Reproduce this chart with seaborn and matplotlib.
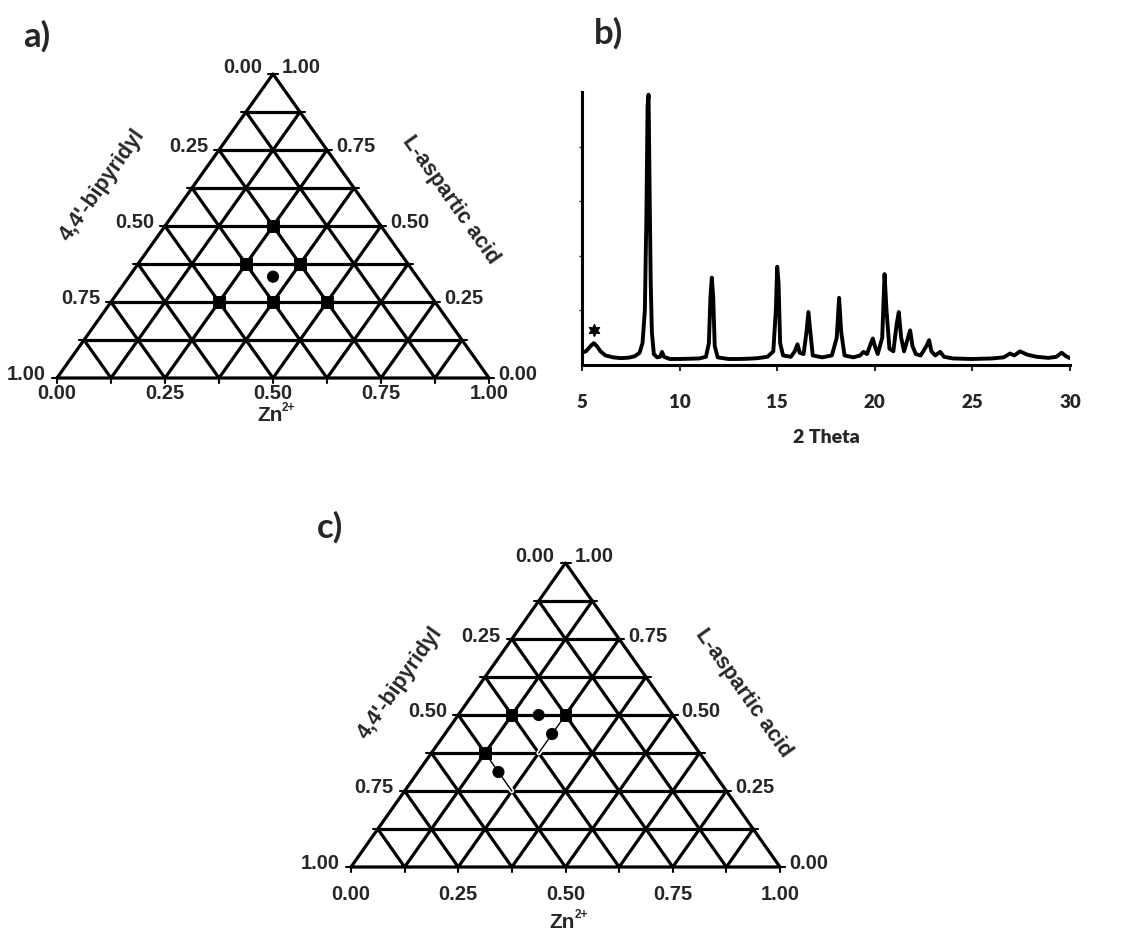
import numpy as np
import pandas as pd
import seaborn as sns
import matplotlib.pyplot as plt

W, H = 1131, 937

# ---- panel a: compositions (Zn2+, 4,4'-bipyridyl, L-aspartic acid)
a_zn = [0.25, 0.25, 0.375, 0.25, 0.375, 0.5, 1 / 3]
a_bipy = [0.25, 0.375, 0.25, 0.5, 0.375, 0.25, 1 / 3]
a_asp = [0.5, 0.375, 0.375, 0.25, 0.25, 0.25, 1 / 3]
a_kind = ['grid', 'grid', 'grid', 'grid', 'grid', 'grid', 'mid']

# ---- panel c
c_zn = [0.125, 0.25, 0.125, 0.1875, 0.25, 0.1875]
c_bipy = [0.375, 0.25, 0.5, 0.3125, 0.3125, 0.5]
c_asp = [0.5, 0.5, 0.375, 0.5, 0.4375, 0.3125]
c_kind = ['grid', 'grid', 'grid', 'mid', 'mid', 'mid']
# thin tie lines in c (start, end)
tie_zn = [[0.25, 0.25], [0.125, 0.25]]
tie_asp = [[0.5, 0.375], [0.375, 0.25]]

# ---- panel b: powder pattern
two_theta = [5.0, 5.2, 5.45, 5.6, 5.75, 5.95, 6.2, 6.6, 7.0, 7.4, 7.7, 7.95, 8.1, 8.22,
             8.3, 8.36, 8.41, 8.47, 8.52, 8.58, 8.68, 8.85, 9.0, 9.1, 9.2, 9.5, 10.0,
             10.5, 11.0, 11.35, 11.5, 11.58, 11.65, 11.72, 11.8, 11.95, 12.5, 13.0,
             13.5, 14.0, 14.5, 14.8, 14.93, 15.0, 15.07, 15.15, 15.3, 15.7, 15.9, 16.04,
             16.15, 16.35, 16.5, 16.6, 16.7, 16.82, 17.3, 17.8, 18.05, 18.17, 18.28,
             18.45, 18.9, 19.25, 19.42, 19.6, 19.8, 19.9, 20.0, 20.15, 20.38, 20.5,
             20.6, 20.75, 20.95, 21.12, 21.23, 21.35, 21.5, 21.7, 21.81, 21.93, 22.1,
             22.35, 22.65, 22.78, 22.9, 23.1, 23.35, 23.55, 24.0, 25.0, 26.0, 26.6,
             26.93, 27.15, 27.44, 27.8, 28.3, 28.9, 29.3, 29.57, 29.8, 30.0]
intensity = [0.045, 0.05, 0.07, 0.08, 0.07, 0.05, 0.035, 0.028, 0.025, 0.027, 0.032,
             0.045, 0.08, 0.2, 0.55, 0.95, 0.99, 0.6, 0.3, 0.12, 0.04, 0.028, 0.03,
             0.048, 0.03, 0.022, 0.022, 0.023, 0.024, 0.03, 0.08, 0.25, 0.32, 0.25,
             0.07, 0.028, 0.022, 0.022, 0.023, 0.025, 0.03, 0.05, 0.2, 0.36, 0.3, 0.08,
             0.035, 0.03, 0.05, 0.076, 0.045, 0.04, 0.12, 0.194, 0.12, 0.035, 0.028,
             0.035, 0.1, 0.246, 0.12, 0.035, 0.028, 0.035, 0.048, 0.04, 0.08, 0.097,
             0.07, 0.04, 0.1, 0.333, 0.2, 0.06, 0.05, 0.15, 0.194, 0.1, 0.05, 0.1,
             0.127, 0.07, 0.04, 0.035, 0.07, 0.091, 0.05, 0.035, 0.048, 0.03, 0.024,
             0.022, 0.024, 0.028, 0.042, 0.035, 0.05, 0.038, 0.03, 0.026, 0.03, 0.045,
             0.032, 0.025]
star_pos = [5.6]
star_int = [0.127]
tick_vals = [0.0, 0.25, 0.5, 0.75, 1.0]

sns.set_style('white')
plt.rcParams['font.family'] = ['Liberation Sans', 'DejaVu Sans']
plt.rcParams['font.weight'] = 'bold'

fig = plt.figure(figsize=(W / 100, H / 100), dpi=100)


def box(l, t, r, b):
    return fig.add_axes([l / W, 1 - b / H, (r - l) / W, (b - t) / H])


def tern(ax, zn, bipy, asp, kind, wpx, hpx, lab_dy, zn_dy, names):
    ax.set_xlim(0, 1)
    ax.set_ylim(0, 1)
    ax.axis('off')
    lw = 2.3
    for k in range(1, 8):
        t = k / 8
        ax.plot([t / 2, 1 - t / 2], [t, t], color='black', lw=lw, solid_capstyle='butt')
        ax.plot([t, t + (1 - t) / 2], [0, 1 - t], color='black', lw=lw)
        ax.plot([1 - t, (1 - t) / 2], [0, 1 - t], color='black', lw=lw)
    ax.plot([0, 1, 0.5, 0], [0, 0, 1, 0], color='black', lw=lw, clip_on=False)
    tx, ty = 5 / wpx, 5 / hpx
    for k in range(9):
        t = k / 8
        ax.plot([t / 2 - tx, t / 2], [t, t], color='black', lw=1.5, clip_on=False)
        ax.plot([1 - t / 2, 1 - t / 2 + tx], [t, t], color='black', lw=1.5, clip_on=False)
        ax.plot([t, t], [0, -ty], color='black', lw=1.5, clip_on=False)
    for v in tick_vals:
        h = 1 - v
        dy = 7 if h == 1 else 4
        ax.annotate(f'{v:.2f}', (h / 2, h), xytext=(-11, dy), textcoords='offset pixels',
                    ha='right', va='center', fontsize=14.5, fontweight='bold')
        dy = 7 if v == 1 else 4
        ax.annotate(f'{v:.2f}', (1 - v / 2, v), xytext=(9, dy), textcoords='offset pixels',
                    ha='left', va='center', fontsize=14.5, fontweight='bold')
        ax.annotate(f'{v:.2f}', (v, 0), xytext=(0, -lab_dy), textcoords='offset pixels',
                    ha='center', va='center', fontsize=14.5, fontweight='bold')
    ax.annotate('Zn', (0.5, 0), xytext=(-3, -zn_dy), textcoords='offset pixels',
                ha='center', va='center', fontsize=15, fontweight='bold')
    ax.annotate('2+', (0.5, 0), xytext=(9, -zn_dy + 8), textcoords='offset pixels',
                ha='left', va='center', fontsize=8.5, fontweight='bold')
    ang = np.degrees(np.arctan2(hpx, wpx / 2))
    (lx, ly), (rx, ry) = names
    ax.text(lx, ly, "4,4'-bipyridyl", rotation=ang, rotation_mode='anchor',
            ha='center', va='center', fontsize=15.5, fontweight='bold')
    ax.text(rx, ry, 'L-aspartic acid', rotation=-ang, rotation_mode='anchor',
            ha='center', va='center', fontsize=15.5, fontweight='bold')
    df = pd.DataFrame({'x': np.array(zn) + np.array(asp) / 2, 'y': asp, 'kind': kind})
    sns.scatterplot(data=df, x='x', y='y', style='kind', markers={'grid': 's', 'mid': 'o'},
                    color='black', s=65, edgecolor='black', legend=False, ax=ax,
                    zorder=5, clip_on=False)


ax_a = box(57, 75, 489, 379)
tern(ax_a, a_zn, a_bipy, a_asp, a_kind, 432, 304, 15, 37,
     [(0.106, 0.638), (0.91, 0.589)])

ax_c = box(351, 564, 780, 868)
tern(ax_c, c_zn, c_bipy, c_asp, c_kind, 429, 304, 27, 55,
     [(0.114, 0.609), (0.914, 0.576)])
for zz, aa in zip(tie_zn, tie_asp):
    xs = np.array(zz) + np.array(aa) / 2
    ax_c.plot(xs, aa, color='white', lw=3.4, zorder=3)
    ax_c.plot(xs, aa, color='black', lw=1.0, zorder=4)

# ---- panel b
ax_b = box(582, 93, 1070, 366)
xrd = pd.DataFrame({'two_theta': two_theta, 'intensity': intensity})
sns.lineplot(data=xrd, x='two_theta', y='intensity', color='black', lw=2.8, ax=ax_b)
ax_b.scatter(star_pos, star_int, marker=(6, 1, 0), s=70, color='black', zorder=5)
ax_b.set_xlim(5, 30)
ax_b.set_ylim(0, 1)
for s in ['top', 'right']:
    ax_b.spines[s].set_visible(False)
for s in ['left', 'bottom']:
    ax_b.spines[s].set_linewidth(2.2)
    ax_b.spines[s].set_color('black')
ax_b.set_xticks([5, 10, 15, 20, 25, 30])
ax_b.set_yticks([0.2, 0.4, 0.6, 0.8])
ax_b.set_yticklabels([])
ax_b.tick_params(axis='x', direction='out', length=4, width=1.5, pad=16,
                 labelsize=13.5, bottom=True)
ax_b.tick_params(axis='y', direction='out', length=2, width=1, left=True)
for lbl in ax_b.get_xticklabels():
    lbl.set_fontfamily(['Lato', 'DejaVu Sans'])
    lbl.set_fontweight('heavy')
ax_b.set_xlabel('2 Theta', fontsize=14, fontweight='heavy', family=['Lato', 'DejaVu Sans'],
                labelpad=13)
ax_b.set_ylabel('')

for txt, (px, py) in zip(['a)', 'b)', 'c)'], [(37, 36), (608, 33), (330, 527)]):
    fig.text(px / W, 1 - py / H, txt, ha='center', va='center', fontsize=25,
             fontweight='bold', family=['Lato', 'DejaVu Sans'])

fig.savefig('out.png', dpi=100)
